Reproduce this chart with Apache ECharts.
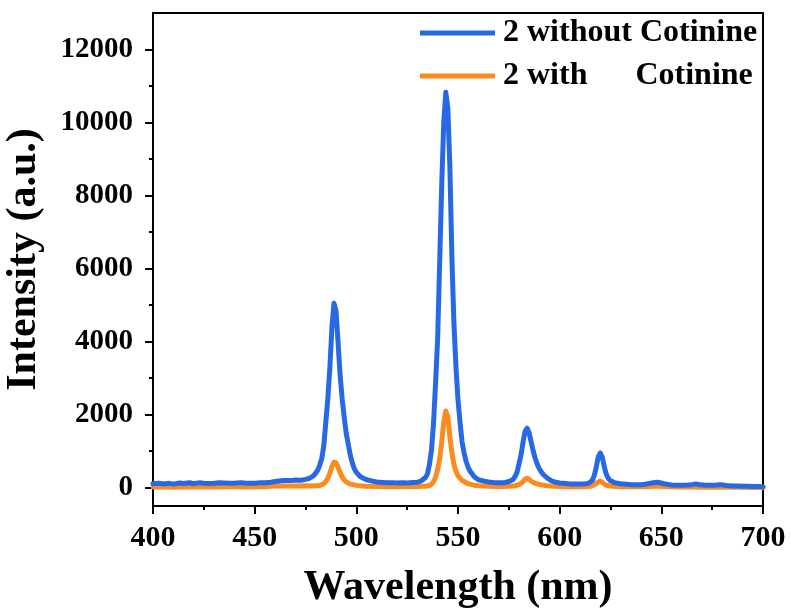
<!DOCTYPE html>
<html>
<head>
<meta charset="utf-8">
<script src="https://cdn.jsdelivr.net/npm/echarts@6/dist/echarts.min.js"></script>
<style>
  html, body { margin: 0; padding: 0; background: #fff; }
  #chart { width: 791px; height: 608px; }
</style>
</head>
<body>
<div id="chart"></div>
<script>
// Emission spectra: wavelength (nm) vs. intensity (a.u.)
const seriesNames = ['2 without Cotinine', '2 with      Cotinine'];

const blueWl = [400,403,405,408,410,413,415,418,420,423,425,428,430,433,435,438,440,443,445,448,450,453,455,458,460,463,465,468,470,473,475,477,479,
  480,481,482,483,484,485,486,487,488,489,490,491,492,493,494,495,496,497,498,499,500,502,505,508,510,513,515,518,520,523,525,528,530,532,
  534,535,536,537,538,539,540,541,542,543,544,545,546,547,548,549,550,551,552,553,554,555,556,558,560,563,565,568,570,573,575,
  577,578,579,580,581,582,583,584,585,586,587,588,589,590,591,592,594,596,598,600,603,605,608,610,612,
  614,615,616,617,618,619,620,621,622,623,624,625,627,630,633,635,638,640,642,644,646,648,650,652,655,658,660,663,665,667,669,672,675,677,679,682,685,688,690,693,695,698,700];
const blueI = [110,125,105,120,100,130,115,135,110,140,125,115,120,135,130,120,125,140,130,120,125,135,140,150,170,190,200,195,210,205,230,260,330,
  400,480,620,800,1150,1800,2450,3300,4400,5050,4850,4000,3100,2450,1950,1500,1200,900,680,520,420,300,220,180,160,145,135,140,130,135,130,145,150,190,
  280,380,650,1050,1800,2900,4100,6200,8300,10000,10830,10400,8800,6300,4500,3300,2400,1800,1250,950,720,560,450,300,220,180,160,140,135,140,170,
  220,300,420,650,900,1250,1550,1630,1500,1250,1000,800,640,520,430,360,260,190,150,130,115,105,100,100,105,
  120,150,200,330,560,850,950,830,560,360,250,190,140,110,95,85,80,85,95,115,135,150,130,100,75,70,70,75,85,105,80,70,70,75,85,60,50,45,40,40,35,35,30];

const orangeWl = [400,405,410,415,420,425,430,435,440,445,450,455,458,460,465,470,475,478,480,482,484,485,486,487,488,489,490,491,492,493,494,495,497,500,503,505,510,515,520,525,530,533,
  535,536,537,538,539,540,541,542,543,544,545,546,547,548,549,550,551,552,555,558,560,565,570,575,578,
  580,581,582,583,584,585,586,588,590,593,595,600,605,610,615,617,618,619,620,621,622,623,626,630,635,640,645,648,651,655,660,665,670,675,680,685,690,695,700];
const orangeI = [20,25,15,30,20,25,20,30,25,20,25,30,40,45,50,45,55,50,55,60,110,170,260,400,580,700,680,560,420,300,220,160,100,65,50,40,35,30,30,35,35,40,
  50,60,100,170,290,500,800,1250,1800,2100,1950,1400,950,640,450,330,260,200,110,70,55,40,35,40,55,
  85,120,170,235,260,230,180,120,90,60,50,35,30,30,40,80,120,160,180,145,100,70,40,30,25,25,35,50,35,25,20,20,15,15,15,15,15,10,10];

const tickLabelsY = [0, 2000, 4000, 6000, 8000, 10000, 12000];
const minorTicksY = [1000, 3000, 5000, 7000, 9000, 11000];

const serif = '"Liberation Serif", "Times New Roman", "DejaVu Serif", serif';
const blue = '#2868e4';
const orange = '#fb8b1d';

const chart = echarts.init(document.getElementById('chart'), null, { renderer: 'canvas' });

const zip = (xs, ys) => xs.map((x, i) => [x, ys[i]]);

chart.setOption({
  animation: false,
  backgroundColor: '#fff',
  grid: {
    left: 153, right: 28, top: 13, bottom: 102,
    outerBoundsMode: 'none', containLabel: false,
    show: true, borderColor: '#000', borderWidth: 2, backgroundColor: 'transparent'
  },
  legend: {
    orient: 'vertical',
    left: 420, top: 17, padding: 0,
    itemWidth: 75, itemHeight: 5, itemGap: 11,
    icon: 'rect',
    textStyle: { fontFamily: serif, fontWeight: 'bold', fontSize: 32, color: '#000', padding: [0, 0, 0, 3] },
    data: seriesNames
  },
  xAxis: {
    type: 'value', min: 400, max: 700, interval: 50,
    name: 'Wavelength (nm)', nameLocation: 'middle', nameGap: 61,
    nameTextStyle: { fontFamily: serif, fontWeight: 'bold', fontSize: 42, color: '#000' },
    axisLine: { show: true, onZero: false, lineStyle: { color: '#000', width: 2 } },
    axisTick: { show: true, length: 8, lineStyle: { color: '#000', width: 2 } },
    minorTick: { show: true, splitNumber: 2, length: 4, lineStyle: { color: '#000', width: 2 } },
    axisLabel: { fontFamily: serif, fontWeight: 'bold', fontSize: 30, color: '#000', margin: 17 },
    splitLine: { show: false }
  },
  yAxis: [{
    type: 'value', min: -500, max: 13000,
    name: 'Intensity (a.u.)', nameLocation: 'middle', nameGap: 108,
    nameTextStyle: { fontFamily: serif, fontWeight: 'bold', fontSize: 42, color: '#000' },
    axisLine: { show: true, onZero: false, lineStyle: { color: '#000', width: 2 } },
    axisTick: { show: true, length: 8, customValues: tickLabelsY, lineStyle: { color: '#000', width: 2 } },
    axisLabel: {
      customValues: tickLabelsY, formatter: v => String(v),
      fontFamily: serif, fontWeight: 'bold', fontSize: 29, color: '#000', margin: 20
    },
    splitLine: { show: false }
  }, {
    type: 'value', min: -500, max: 13000, position: 'left',
    axisLine: { show: true, onZero: false, lineStyle: { color: '#000', width: 2 } },
    axisTick: { show: true, length: 4, customValues: minorTicksY, lineStyle: { color: '#000', width: 2 } },
    axisLabel: { show: false },
    splitLine: { show: false }
  }],
  series: [{
    name: seriesNames[0], type: 'line', z: 3,
    showSymbol: false, symbol: 'none',
    color: blue, lineStyle: { color: blue, width: 5, join: 'round', cap: 'round' },
    data: zip(blueWl, blueI)
  }, {
    name: seriesNames[1], type: 'line', z: 2,
    showSymbol: false, symbol: 'none',
    color: orange, lineStyle: { color: orange, width: 5, join: 'round', cap: 'round' },
    data: zip(orangeWl, orangeI)
  }]
});
</script>
</body>
</html>
